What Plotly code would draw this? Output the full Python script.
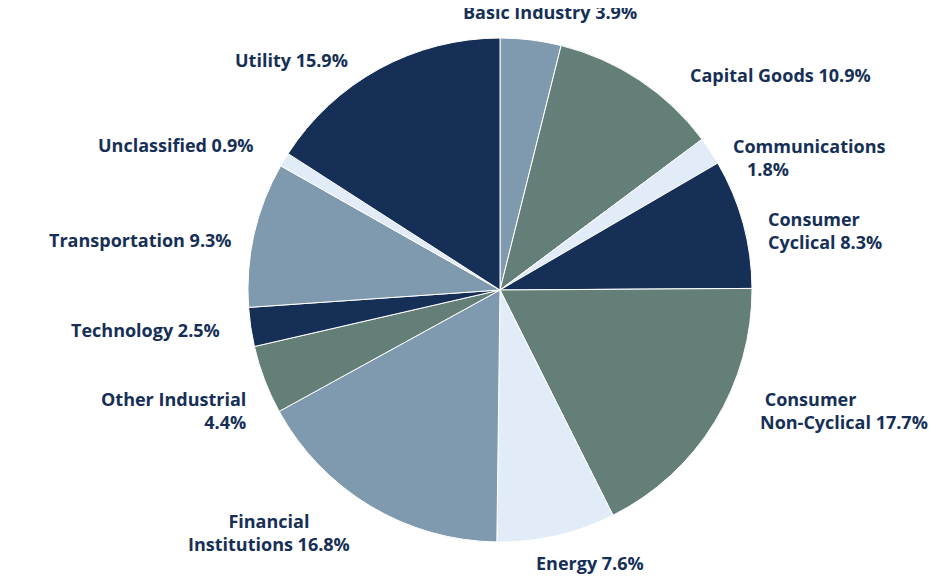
import plotly.graph_objects as go

sectors = ["Basic Industry", "Capital Goods", "Communications", "Consumer Cyclical",
           "Consumer Non-Cyclical", "Energy", "Financial Institutions", "Other Industrial",
           "Technology", "Transportation", "Unclassified", "Utility"]
values = [3.9, 10.9, 1.8, 8.3, 17.7, 7.6, 16.8, 4.4, 2.5, 9.3, 0.9, 15.9]
label_text = ["Basic Industry 3.9%", "Capital Goods 10.9%", "Communications<br>   1.8%",
              "Consumer<br>Cyclical 8.3%", " Consumer<br>Non-Cyclical 17.7%", "Energy 7.6%",
              "Financial<br>Institutions 16.8%", "Other Industrial<br>4.4%", "Technology 2.5%",
              "Transportation 9.3%", "Unclassified 0.9%", "Utility 15.9%"]

colors = ["#7f9aae", "#647f78", "#e1ecf8", "#162f56", "#647f78", "#e1ecf8",
          "#7f9aae", "#647f78", "#162f56", "#7f9aae", "#e1ecf8", "#162f56"]

W, H = 943, 578
OFF = 8  # page offset compensation
pos = [(550, 12, "center"), (780, 75, "center"), (731, 157, "left"), (766, 230, "left"),
       (758, 410, "left"), (590, 563, "center"), (269, 532, "center"), (248, 410, "right"),
       (222, 330, "right"), (234, 240, "right"), (256, 145, "right"), (350, 60, "right")]

fig = go.Figure(go.Pie(
    labels=sectors, values=values, sort=False, direction="clockwise", rotation=0,
    marker=dict(colors=colors, line=dict(color="white", width=1)),
    textinfo="none", hoverinfo="label+percent",
    domain=dict(x=[(248 - OFF) / W, (752 - OFF) / W], y=[1 - (542 - OFF) / H, 1 - (38 - OFF) / H]),
))

for t, (x, y, xa) in zip(label_text, pos):
    align = "center" if xa == "center" else ("left" if xa == "left" else "right")
    if t.startswith("Financial"):
        align = "center"
    fig.add_annotation(x=(x - OFF) / W, y=1 - (y - OFF) / H, xref="paper", yref="paper", text=t,
                       showarrow=False, xanchor=xa, yanchor="middle", align=align,
                       font=dict(family="Open Sans", size=18, color="#162f56", weight="bold"))

fig.update_layout(width=W, height=H, margin=dict(l=0, r=0, t=0, b=0),
                  showlegend=False, paper_bgcolor="white", plot_bgcolor="white")
fig.write_html("out.html")
